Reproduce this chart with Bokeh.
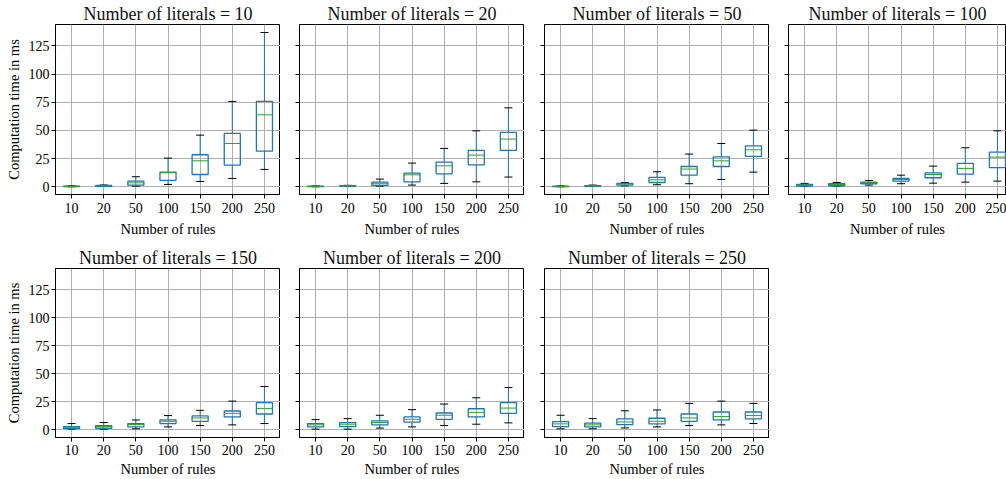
from bokeh.plotting import figure
from bokeh.layouts import column, row
from bokeh.models import Range1d, FixedTicker
from bokeh.embed import file_html
from bokeh.resources import INLINE

# ---------------- data ----------------
literals = [10, 20, 50, 100, 150, 200, 250]
rules = ["10", "20", "50", "100", "150", "200", "250"]
y_ticks = [0, 25, 50, 75, 100, 125]

# per literal count (rows), per rule count (columns)
w_lo = [
    [0.0, 0.3, 0.6, 2.1, 4.7, 7.4, 15.4],
    [0.0, 0.2, 0.6, 1.5, 3.0, 4.4, 8.6],
    [0.0, 0.2, 0.8, 1.8, 2.7, 6.5, 13.0],
    [0.3, 0.6, 1.5, 2.7, 3.2, 4.1, 5.0],
    [0.6, 0.6, 0.9, 2.6, 3.8, 4.4, 5.6],
    [0.6, 0.6, 1.5, 2.6, 3.8, 5.0, 6.2],
    [0.9, 0.9, 1.7, 2.6, 3.8, 4.4, 5.6],
]
q1 = [
    [0.2, 0.4, 1.5, 5.6, 10.9, 19.2, 31.6],
    [0.1, 0.3, 1.2, 4.4, 11.5, 19.5, 32.2],
    [0.1, 0.4, 1.5, 3.8, 10.3, 18.0, 26.9],
    [0.6, 0.9, 2.7, 5.0, 8.0, 11.2, 16.9],
    [1.2, 1.4, 2.6, 5.6, 7.6, 11.5, 14.1],
    [2.6, 2.9, 4.4, 6.8, 9.4, 11.5, 14.7],
    [2.9, 2.6, 4.7, 5.3, 7.6, 8.8, 9.7],
]
med = [
    [0.4, 0.8, 3.5, 12.4, 23.0, 38.4, 63.8],
    [0.3, 0.6, 2.7, 10.6, 18.6, 28.1, 42.3],
    [0.3, 0.7, 2.4, 6.2, 15.7, 23.0, 32.8],
    [1.5, 2.1, 3.5, 6.5, 10.9, 16.3, 26.3],
    [2.3, 2.9, 4.7, 7.6, 10.6, 14.7, 19.1],
    [4.4, 5.0, 6.5, 9.4, 13.0, 15.6, 19.4],
    [5.3, 4.4, 7.0, 7.6, 10.6, 11.8, 12.7],
]
q3 = [
    [0.6, 1.3, 5.0, 13.0, 28.4, 47.3, 75.7],
    [0.5, 1.0, 4.1, 12.1, 21.9, 32.2, 48.2],
    [0.5, 1.0, 3.0, 8.3, 18.0, 26.6, 36.3],
    [2.0, 2.7, 4.1, 7.4, 12.4, 20.7, 30.7],
    [2.9, 3.8, 5.6, 8.8, 12.4, 16.8, 24.2],
    [5.6, 6.5, 8.0, 11.5, 15.0, 18.8, 24.2],
    [7.3, 5.9, 9.7, 10.3, 14.1, 15.9, 15.9],
]
w_hi = [
    [0.9, 1.6, 8.9, 25.4, 45.8, 75.7, 136.8],
    [0.8, 1.3, 6.8, 21.0, 34.0, 49.6, 70.0],
    [0.8, 1.5, 3.8, 13.3, 29.0, 38.4, 50.2],
    [3.0, 3.8, 5.6, 10.3, 18.3, 34.6, 49.6],
    [5.6, 6.5, 8.8, 12.7, 17.4, 25.6, 38.6],
    [9.1, 10.0, 13.0, 18.0, 23.0, 28.6, 37.7],
    [13.0, 10.0, 17.0, 17.7, 23.6, 25.6, 23.6],
]

# ---------------- style ----------------
FONT = "Liberation Serif"
BLUE = "#1f77b4"
GREEN = "#2ca02c"
FRAME_W = 225
FRAME_H = 170
UNIT_PX = FRAME_W / 7.0

y_range = Range1d(-6.85, 143.9)


def make_panel(idx, left_border, frame_w, top_border, bottom_border, show_ylabels,
               tick_lab_gap, axis_lab_gap):
    x_end = 0.5 + frame_w / UNIT_PX
    p = figure(
        width=left_border + frame_w,
        height=top_border + FRAME_H + bottom_border,
        x_range=Range1d(0.5, x_end),
        y_range=y_range,
        output_backend="svg",
        toolbar_location=None,
        min_border_left=left_border,
        min_border_right=0,
        min_border_top=top_border,
        min_border_bottom=bottom_border,
        title="Number of literals = %d" % literals[idx],
    )
    p.background_fill_color = "white"
    p.border_fill_color = "white"
    p.outline_line_color = "black"
    p.outline_line_width = 1

    p.title.align = "center"
    p.title.text_font = FONT
    p.title.text_font_size = "18px"
    p.title.text_font_style = "normal"
    p.title.text_color = "#111111"
    p.title.standoff = 2
    p.title.offset = 0

    pos = list(range(1, len(rules) + 1))
    p.xaxis.ticker = FixedTicker(ticks=pos)
    p.xaxis.major_label_overrides = {i + 1: r for i, r in enumerate(rules)}
    p.yaxis.ticker = FixedTicker(ticks=y_ticks)

    for ax in (p.xaxis, p.yaxis):
        ax.minor_tick_line_color = None
        ax.major_tick_in = 0
        ax.major_tick_out = 4
        ax.major_tick_line_color = "black"
        ax.axis_line_color = "black"
        ax.major_label_text_font = FONT
        ax.major_label_text_font_size = "14px"
        ax.major_label_text_color = "black"
        ax.axis_label_text_font = FONT
        ax.axis_label_text_font_size = "14.5px"
        ax.axis_label_text_font_style = "normal"
        ax.axis_label_text_color = "black"

    p.xaxis.major_label_standoff = tick_lab_gap
    p.xaxis.axis_label_standoff = axis_lab_gap
    p.yaxis.major_label_standoff = 2
    p.yaxis.axis_label_standoff = 4

    p.xaxis.axis_label = "Number of rules"
    if show_ylabels:
        p.yaxis.axis_label = "Computation time in ms"
    else:
        p.yaxis.major_label_overrides = {t: "" for t in y_ticks}
        p.yaxis.major_label_standoff = 0

    p.grid.grid_line_color = "#b0b0b0"
    p.grid.grid_line_width = 1

    lo, a, m, b, hi = w_lo[idx], q1[idx], med[idx], q3[idx], w_hi[idx]
    half = 0.25
    cap = 0.125
    # whiskers
    p.segment(x0=pos, y0=b, x1=pos, y1=hi, line_color=BLUE, line_width=1)
    p.segment(x0=pos, y0=a, x1=pos, y1=lo, line_color=BLUE, line_width=1)
    # caps
    p.segment(x0=[x - cap for x in pos], y0=hi, x1=[x + cap for x in pos], y1=hi,
              line_color="black", line_width=1)
    p.segment(x0=[x - cap for x in pos], y0=lo, x1=[x + cap for x in pos], y1=lo,
              line_color="black", line_width=1)
    # boxes
    p.quad(left=[x - half for x in pos], right=[x + half for x in pos],
           bottom=a, top=b, fill_color=None, line_color=BLUE, line_width=1.3)
    # medians
    p.segment(x0=[x - half for x in pos], y0=m, x1=[x + half for x in pos], y1=m,
              line_color=GREEN, line_width=1)
    return p


top_row = [
    make_panel(0, 55, FRAME_W, 24, 45, True, 4, 5),
    make_panel(1, 19, FRAME_W, 24, 45, False, 4, 5),
    make_panel(2, 20, FRAME_W, 24, 45, False, 4, 5),
    make_panel(3, 19, 1006 - 788, 24, 45, False, 4, 5),
]
bottom_row = [
    make_panel(4, 55, FRAME_W, 29, 41, True, 3, 3),
    make_panel(5, 19, FRAME_W, 29, 41, False, 3, 3),
    make_panel(6, 20, FRAME_W, 29, 41, False, 3, 3),
]

layout = column(row(*top_row), row(*bottom_row))
open("out.html", "w").write(file_html(layout, INLINE))
